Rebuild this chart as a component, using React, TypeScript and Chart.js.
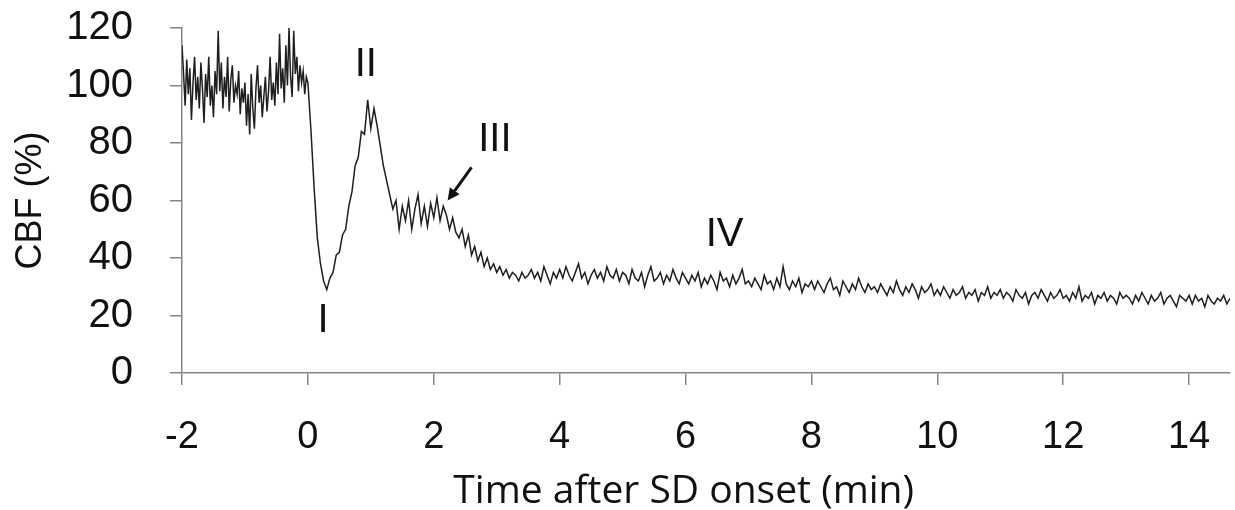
import { useEffect, useRef } from 'react';
import { Chart, registerables } from 'chart.js';

Chart.register(...registerables);

const X_MIN = -2;
const X_MAX = 14.65;

// CBF (%) before SD onset, sampled every 0.025 min from -2.000 to -0.025 min
const BASELINE_START = -2;
const BASELINE_STEP = 0.025;
const baselineCBF = [
  114, 104, 93, 109, 97, 106, 88, 101, 110, 95,
  103, 92, 108, 99, 87, 104, 96, 110, 93, 100,
  89, 105, 97, 119, 98, 108, 92, 103, 96, 110,
  91, 102, 107, 94, 100, 97, 105, 90, 99, 94,
  101, 86, 97, 83, 104, 92, 85, 99, 107, 94,
  100, 89, 96, 103, 91, 98, 110, 95, 101, 93,
  108, 97, 118, 99, 106, 94, 114, 100, 120, 103,
  96, 119, 104, 110, 98, 107, 101, 105, 97, 103,
];

// CBF (%) during the SD response, sampled every 0.05 min from 0.00 to 3.50 min
const RESPONSE_START = 0;
const RESPONSE_STEP = 0.05;
const responseCBF = [
  101, 84, 64, 47, 38, 32, 29, 33, 35, 41,
  42, 48, 50, 58, 63, 72, 75, 84, 83, 95,
  85, 92, 86, 79, 72, 67, 62, 57, 60, 50,
  58, 53, 60, 50, 57, 62, 52, 58, 51, 59,
  54, 61, 53, 58, 55, 50, 54, 49, 47, 50,
  44, 48, 41, 44, 39, 42, 37, 40, 36, 38,
  35, 37, 34, 36, 33, 35, 34, 32, 35, 33,
  34,
];

// CBF (%) during the late oligemia, sampled every 0.05 min from 3.55 to 14.65 min
const RECOVERY_START = 3.55;
const RECOVERY_STEP = 0.05;
const recoveryCBF = [
  36, 33, 35, 32, 37, 34, 31, 35, 33, 36,
  33, 37, 34, 32, 35, 38, 33, 35, 31, 34, 36, 33, 35, 32, 37, 34, 33, 36, 32, 35,
  34, 31, 36, 33, 32, 35, 30, 34, 37, 32, 33, 35, 31, 34, 32, 36, 33, 31, 35, 33,
  31, 34, 32, 35, 30, 33, 31, 34, 32, 29, 35, 32, 33, 30, 34, 31, 33, 36, 31, 32,
  30, 33, 31, 29, 34, 31, 32, 29, 33, 30, 37, 31, 29, 32, 30, 33, 28, 31, 30, 32,
  29, 32, 30, 28, 31, 33, 29, 30, 27, 32, 30, 28, 31, 29, 33, 30, 28, 31, 29, 30,
  28, 31, 29, 27, 30, 28, 32, 29, 27, 30, 28, 31, 29, 26, 30, 28, 29, 31, 27, 29,
  27, 30, 28, 26, 29, 27, 28, 30, 26, 28, 27, 29, 25, 28, 27, 30, 26, 28, 27, 29,
  26, 28, 27, 25, 29, 27, 26, 28, 24, 27, 28, 26, 29, 27, 25, 28, 26, 27, 29, 26,
  27, 25, 28, 26, 30, 25, 27, 26, 28, 24, 27, 26, 28, 25, 27, 26, 24, 28, 26, 27,
  26, 24, 27, 25, 28, 26, 24, 27, 25, 26, 28, 24, 26, 27, 25, 23, 27, 26, 25, 27,
  24, 27, 25, 26, 23, 27, 25, 24, 26, 25, 27, 24, 26,
];

const xTicks = [-2, 0, 2, 4, 6, 8, 10, 12, 14];
const yTicks = [0, 20, 40, 60, 80, 100, 120];

const phaseLabels = ['I', 'II', 'III', 'IV'];
const phaseLabelX = [0.24, 0.92, 2.97, 6.62];
const phaseLabelY = [18, 107, 81, 48];

const arrowFrom = [2.6, 71.5];
const arrowTo = [2.22, 60];

const X_TITLE = 'Time after SD onset (min)';
const Y_TITLE = 'CBF (%)';

const AXIS_GREY = '#858585';
const TEXT = '#111111';
const SANS = '"Liberation Sans", Arial, sans-serif';

const segment = (values: number[], start: number, step: number) =>
  values.map((v, i) => ({ x: Math.round((start + i * step) * 1000) / 1000, y: v }));

const points = [
  ...segment(baselineCBF, BASELINE_START, BASELINE_STEP),
  ...segment(responseCBF, RESPONSE_START, RESPONSE_STEP),
  ...segment(recoveryCBF, RECOVERY_START, RECOVERY_STEP),
];

const annotationPlugin = {
  id: 'sdAnnotations',
  afterDatasetsDraw(chart: any) {
    const { ctx, scales } = chart;
    const xs = scales.x;
    const ys = scales.y;
    ctx.save();
    ctx.fillStyle = TEXT;
    ctx.font = `40px ${SANS}`;
    ctx.textAlign = 'center';
    ctx.textBaseline = 'middle';
    phaseLabels.forEach((t, i) => {
      ctx.fillText(t, xs.getPixelForValue(phaseLabelX[i]), ys.getPixelForValue(phaseLabelY[i]));
    });
    // arrow pointing at phase III
    const x0 = xs.getPixelForValue(arrowFrom[0]);
    const y0 = ys.getPixelForValue(arrowFrom[1]);
    const x1 = xs.getPixelForValue(arrowTo[0]);
    const y1 = ys.getPixelForValue(arrowTo[1]);
    const ang = Math.atan2(y1 - y0, x1 - x0);
    const head = 12;
    const half = 6;
    const bx = x1 - head * Math.cos(ang);
    const by = y1 - head * Math.sin(ang);
    ctx.strokeStyle = TEXT;
    ctx.lineWidth = 3;
    ctx.beginPath();
    ctx.moveTo(x0, y0);
    ctx.lineTo(bx, by);
    ctx.stroke();
    ctx.beginPath();
    ctx.moveTo(x1, y1);
    ctx.lineTo(bx + half * Math.sin(ang), by - half * Math.cos(ang));
    ctx.lineTo(bx - half * Math.sin(ang), by + half * Math.cos(ang));
    ctx.closePath();
    ctx.fill();
    // x-axis title
    ctx.font = '39px "Open Sans", sans-serif';
    ctx.textBaseline = 'alphabetic';
    ctx.fillText(X_TITLE, xs.getPixelForValue(5.97), 503);
    ctx.restore();
  },
};

export default function App() {
  const canvasRef = useRef<HTMLCanvasElement | null>(null);

  useEffect(() => {
    let chart: Chart | null = null;
    let cancelled = false;
    const make = () => {
      if (cancelled || !canvasRef.current) return;
      chart = new Chart(canvasRef.current, {
        type: 'line',
        data: {
          datasets: [
            {
              label: 'CBF',
              data: points,
              borderColor: '#1f1f1f',
              borderWidth: 1.5,
              pointRadius: 0,
              tension: 0,
              fill: false,
            },
          ],
        },
        options: {
          responsive: false,
          animation: false,
          events: [],
          layout: { padding: { top: 28, right: 5, left: 0, bottom: 0 } },
          plugins: { legend: { display: false }, tooltip: { enabled: false } },
          scales: {
            x: {
              type: 'linear',
              min: X_MIN,
              max: X_MAX,
              afterBuildTicks: (s: any) => {
                s.ticks = xTicks.map((v) => ({ value: v }));
              },
              afterFit: (s: any) => {
                s.height = 137;
                s.paddingLeft = 0;
                s.paddingRight = 0;
              },
              grid: {
                drawOnChartArea: false,
                drawTicks: true,
                tickLength: 12,
                color: AXIS_GREY,
                lineWidth: 1.5,
              },
              border: { display: true, color: AXIS_GREY, width: 1.5 },
              ticks: {
                font: { family: SANS, size: 38 },
                color: TEXT,
                padding: 30,
                maxRotation: 0,
                autoSkip: false,
              },
            },
            y: {
              type: 'linear',
              min: 0,
              max: 120,
              afterBuildTicks: (s: any) => {
                s.ticks = yTicks.map((v) => ({ value: v }));
              },
              afterFit: (s: any) => {
                s.width = 182;
                s.paddingTop = 0;
                s.paddingBottom = 0;
              },
              grid: {
                drawOnChartArea: false,
                drawTicks: true,
                tickLength: 12,
                color: AXIS_GREY,
                lineWidth: 1.5,
              },
              border: { display: true, color: AXIS_GREY, width: 1.5 },
              ticks: {
                font: { family: SANS, size: 40 },
                color: TEXT,
                padding: 37,
                autoSkip: false,
              },
              title: {
                display: true,
                text: Y_TITLE,
                color: TEXT,
                font: { family: SANS, size: 36 },
                padding: { top: 9, bottom: 0 },
              },
            },
          },
        },
        plugins: [annotationPlugin],
      });
    };
    const fonts = (document as any).fonts;
    if (fonts && fonts.load) {
      Promise.all([
        fonts.load('38px "Liberation Sans"'),
        fonts.load('38px "Open Sans"'),
      ])
        .catch(() => null)
        .then(make);
    } else {
      make();
    }
    return () => {
      cancelled = true;
      if (chart) chart.destroy();
    };
  }, []);

  return (
    <div style={{ position: 'absolute', left: 0, top: 0, width: 1235, height: 510, background: '#ffffff' }}>
      <canvas ref={canvasRef} width={1235} height={510} style={{ display: 'block' }} />
    </div>
  );
}
